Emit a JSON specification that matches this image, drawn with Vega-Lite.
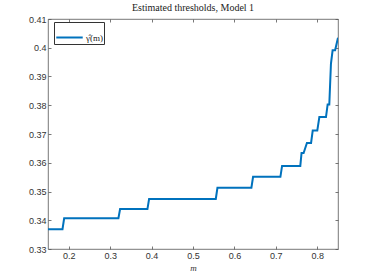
{
  "$schema": "https://vega.github.io/schema/vega-lite/v6.json",
  "autosize": "none",
  "width": 290,
  "height": 230,
  "padding": {"left": 48, "top": 19, "right": 36, "bottom": 31},
  "background": "white",
  "title": {"text": "Estimated thresholds, Model 1", "font": "Liberation Serif", "fontSize": 10, "fontWeight": "normal", "color": "#222", "offset": 2},
  "config": {
    "view": {"stroke": "#555", "strokeWidth": 0.8},
    "axis": {"grid": false, "domain": false, "tickColor": "#555", "labelColor": "#333", "labelFont": "Liberation Sans", "labelFontSize": 9, "tickSize": -3, "tickWidth": 0.8}
  },
  "data": {"values": [
    {"m": 0.15, "g": 0.3369, "s": "γ̂(m)"},
    {"m": 0.185, "g": 0.3369, "s": "γ̂(m)"},
    {"m": 0.189, "g": 0.3407, "s": "γ̂(m)"},
    {"m": 0.320, "g": 0.3407, "s": "γ̂(m)"},
    {"m": 0.324, "g": 0.3439, "s": "γ̂(m)"},
    {"m": 0.390, "g": 0.3439, "s": "γ̂(m)"},
    {"m": 0.394, "g": 0.3474, "s": "γ̂(m)"},
    {"m": 0.555, "g": 0.3474, "s": "γ̂(m)"},
    {"m": 0.559, "g": 0.3513, "s": "γ̂(m)"},
    {"m": 0.641, "g": 0.3513, "s": "γ̂(m)"},
    {"m": 0.645, "g": 0.3551, "s": "γ̂(m)"},
    {"m": 0.711, "g": 0.3551, "s": "γ̂(m)"},
    {"m": 0.715, "g": 0.3589, "s": "γ̂(m)"},
    {"m": 0.759, "g": 0.3589, "s": "γ̂(m)"},
    {"m": 0.762, "g": 0.3634, "s": "γ̂(m)"},
    {"m": 0.767, "g": 0.3634, "s": "γ̂(m)"},
    {"m": 0.775, "g": 0.3669, "s": "γ̂(m)"},
    {"m": 0.785, "g": 0.3669, "s": "γ̂(m)"},
    {"m": 0.789, "g": 0.3712, "s": "γ̂(m)"},
    {"m": 0.800, "g": 0.3712, "s": "γ̂(m)"},
    {"m": 0.805, "g": 0.3759, "s": "γ̂(m)"},
    {"m": 0.821, "g": 0.3759, "s": "γ̂(m)"},
    {"m": 0.825, "g": 0.3803, "s": "γ̂(m)"},
    {"m": 0.829, "g": 0.3803, "s": "γ̂(m)"},
    {"m": 0.833, "g": 0.3945, "s": "γ̂(m)"},
    {"m": 0.837, "g": 0.3991, "s": "γ̂(m)"},
    {"m": 0.843, "g": 0.3991, "s": "γ̂(m)"},
    {"m": 0.85, "g": 0.4035, "s": "γ̂(m)"}
  ]},
  "layer": [
    {
      "mark": {"type": "line", "strokeWidth": 2, "clip": true},
      "encoding": {
        "x": {"field": "m", "type": "quantitative", "scale": {"domain": [0.15, 0.85], "nice": false, "zero": false},
              "axis": {"values": [0.2, 0.3, 0.4, 0.5, 0.6, 0.7, 0.8], "title": "m", "titleFont": "Liberation Serif", "titleFontStyle": "italic", "titleFontWeight": "normal", "titleFontSize": 9, "titleColor": "#333", "titlePadding": 3, "labelPadding": 5}},
        "y": {"field": "g", "type": "quantitative", "scale": {"domain": [0.33, 0.41], "nice": false, "zero": false},
              "axis": {"values": [0.33, 0.34, 0.35, 0.36, 0.37, 0.38, 0.39, 0.4, 0.41], "format": ".2~f", "title": null, "labelPadding": 5}},
        "color": {"field": "s", "type": "nominal", "scale": {"range": ["#0072BD"]},
                  "legend": {"title": null, "orient": "none", "legendX": 6, "legendY": 3, "symbolType": "stroke", "symbolSize": 700, "symbolStrokeWidth": 2, "strokeColor": "#333", "padding": 1, "labelFont": "Liberation Serif", "labelFontSize": 9, "labelColor": "#222", "fillColor": "white", "labelOffset": 2}}
      }
    },
    {
      "mark": {"type": "line", "opacity": 0},
      "encoding": {
        "x": {"field": "m", "type": "quantitative", "axis": {"orient": "top", "values": [0.2, 0.3, 0.4, 0.5, 0.6, 0.7, 0.8], "labels": false, "title": null}},
        "y": {"field": "g", "type": "quantitative", "axis": {"orient": "right", "values": [0.33, 0.34, 0.35, 0.36, 0.37, 0.38, 0.39, 0.4, 0.41], "labels": false, "title": null}}
      }
    }
  ],
  "resolve": {"axis": {"x": "independent", "y": "independent"}}
}
